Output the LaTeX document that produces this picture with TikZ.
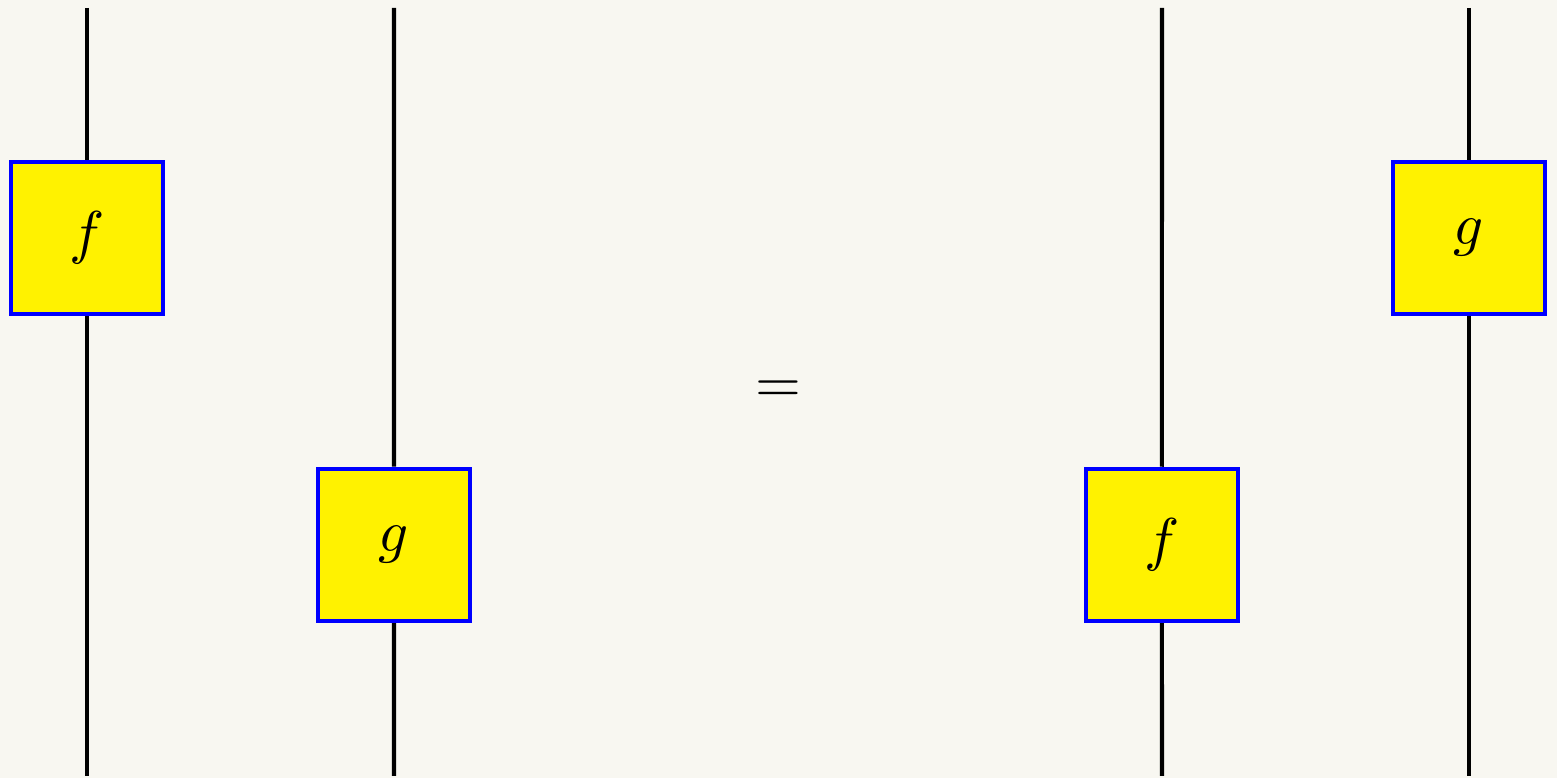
\documentclass[tikz,border=0pt]{standalone}
\usepackage{amsmath,amssymb}
\usepackage{tikz}
\usetikzlibrary{positioning}
\definecolor{paper}{HTML}{F8F7F1}
\definecolor{boxyellow}{HTML}{FFF200}

\begin{document}
\begin{tikzpicture}[
      node distance=1.83cm and 1.83cm,on grid,
      morph/.style={draw=blue,line width=0.75pt,fill=boxyellow,minimum size=0.906cm,inner sep=0pt},
      wire/.style={draw=black,line width=0.7pt}
    ]
    \fill[paper] (0,0) rectangle (9.279,4.636);
    \useasboundingbox (0,0) rectangle (9.279,4.636);
    % left hand side
    \node[morph] (fL) at (0.518,3.218) {$f$};
    \node[morph,below right=of fL] (gL) {$g$};
    % right hand side
    \node[morph] (gR) at (8.754,3.218) {$g$};
    \node[morph,below left=of gR] (fR) {$f$};
    \node (eq) at (4.639,2.30) {$=$};
    % wire ends
    \coordinate (top1) at (0.518,4.589);
    \coordinate (bot1) at (0.518,0.012);
    \coordinate (top2) at (2.348,4.589);
    \coordinate (bot2) at (2.348,0.012);
    \coordinate (top3) at (6.925,4.589);
    \coordinate (bot3) at (6.925,0.012);
    \coordinate (top4) at (8.754,4.589);
    \coordinate (bot4) at (8.754,0.012);
    \draw[wire] (top1) -- (fL);
    \draw[wire] (fL) -- (bot1);
    \draw[wire] (top2) -- (gL);
    \draw[wire] (gL) -- (bot2);
    \draw[wire] (top3) -- (fR);
    \draw[wire] (fR) -- (bot3);
    \draw[wire] (top4) -- (gR);
    \draw[wire] (gR) -- (bot4);
  \end{tikzpicture}
\end{document}
